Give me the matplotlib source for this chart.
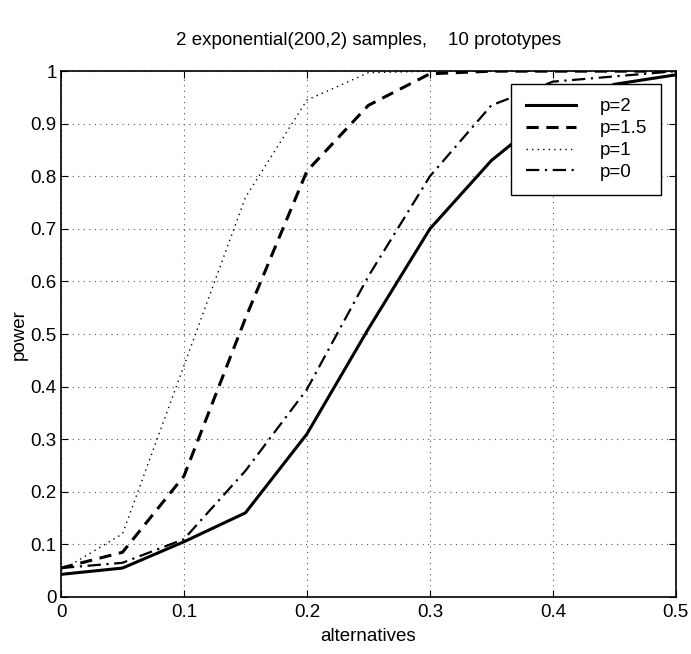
import numpy as np
import matplotlib
matplotlib.use("Agg")
import matplotlib.pyplot as plt

plt.rcParams.update({
    "font.family": ["Liberation Sans", "DejaVu Sans"],
    "font.size": 13.5,
})

alternatives = [0, 0.05, 0.1, 0.15, 0.2, 0.25, 0.3, 0.35, 0.4, 0.45, 0.5]
power_p2 = [0.043, 0.055, 0.105, 0.16, 0.31, 0.51, 0.70, 0.83, 0.925, 0.975, 0.993]
power_p15 = [0.055, 0.085, 0.23, 0.53, 0.81, 0.935, 0.995, 1.0, 1.0, 1.0, 1.0]
power_p1 = [0.05, 0.12, 0.44, 0.76, 0.945, 0.997, 1.0, 1.0, 1.0, 1.0, 1.0]
power_p0 = [0.055, 0.065, 0.11, 0.24, 0.395, 0.61, 0.80, 0.935, 0.98, 0.99, 1.0]

fig = plt.figure(figsize=(6.91, 6.54), dpi=100)
ax = fig.add_axes([0.0883, 0.0872, 0.8897, 0.804])

ax.plot(alternatives, power_p2, color='black', lw=2.2, ls='-', label='p=2')
ax.plot(alternatives, power_p15, color='black', lw=2.2, ls=(0, (4, 2.5)), label='p=1.5')
ax.plot(alternatives, power_p1, color='black', lw=1.0, ls=(0, (1, 3)), label='p=1')
ax.plot(alternatives, power_p0, color='black', lw=1.6, ls=(0, (6, 2.5, 1, 2.5)), label='p=0')

ax.set_xlim(0, 0.5)
ax.set_ylim(0, 1)
ax.set_xticks(np.arange(0, 0.51, 0.1))
ax.set_yticks(np.arange(0, 1.01, 0.1))
ax.set_xticklabels(['0', '0.1', '0.2', '0.3', '0.4', '0.5'])
ax.set_yticklabels(['0', '0.1', '0.2', '0.3', '0.4', '0.5', '0.6', '0.7', '0.8', '0.9', '1'])
ax.tick_params(direction='in', top=True, right=True, length=5, labelsize=13.5, pad=3)
ax.tick_params(axis='x', pad=5)
ax.grid(True, color='#555555', ls=(0, (1, 4)), lw=0.8)
for s in ax.spines.values():
    s.set_linewidth(1.2)

ax.set_xlabel('alternatives', fontsize=13.5, labelpad=5)
ax.set_ylabel('power', fontsize=13.5, labelpad=2)
ax.set_title('2 exponential(200,2) samples,    10 prototypes', fontsize=13.5, pad=19)

leg = ax.legend(loc='upper right', bbox_to_anchor=(0.976, 0.975), borderaxespad=0,
                fancybox=False, edgecolor='black', framealpha=1, handlelength=2.67,
                handletextpad=1.28, borderpad=0.75, labelspacing=0.25, fontsize=13.5)
leg.get_frame().set_linewidth(1.0)

fig.savefig('out.png', dpi=100)
